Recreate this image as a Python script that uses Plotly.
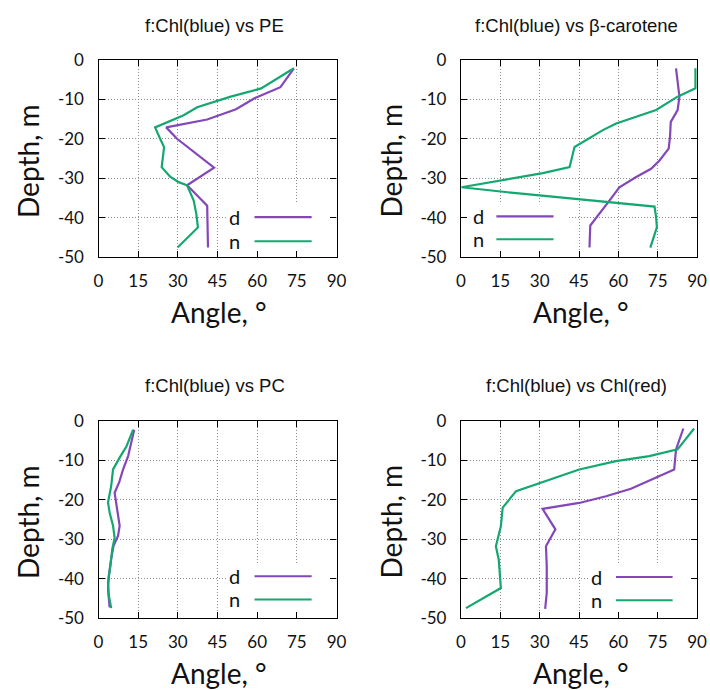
import plotly.graph_objects as go

# ---------------- data ----------------
titles = ["f:Chl(blue) vs PE", "f:Chl(blue) vs \u03b2-carotene",
          "f:Chl(blue) vs PC", "f:Chl(blue) vs Chl(red)"]
x_ticks = [0, 15, 30, 45, 60, 75, 90]
y_ticks = [0, -10, -20, -30, -40, -50]

# Panel 1: PE
pe_d_angle = [73.9, 68.8, 59.0, 52.0, 41.1, 25.6, 29.7, 43.7, 33.5, 41.1, 41.4]
pe_d_depth = [-2.1, -6.9, -9.7, -12.5, -15.1, -17.1, -20.0, -27.3, -31.8, -37.0, -47.6]
pe_n_angle = [73.9, 61.5, 50.0, 37.3, 32.2, 21.4, 23.3, 24.8, 23.9, 27.1, 30.3, 33.5, 36.0, 37.0, 37.6, 29.9]
pe_n_depth = [-2.1, -7.2, -9.3, -12.0, -14.0, -17.1, -20.0, -22.1, -27.2, -29.6, -31.0, -31.8, -35.7, -39.1, -42.5, -47.6]

# Panel 2: beta-carotene
bc_d_angle = [82.0, 82.6, 83.3, 82.6, 80.0, 79.7, 79.2, 75.7, 72.5, 66.8, 60.4, 56.6, 52.8, 49.3, 49.0]
bc_d_depth = [-2.1, -5.1, -9.3, -12.7, -15.7, -19.5, -22.5, -25.5, -27.6, -29.7, -32.3, -35.7, -39.1, -42.0, -47.6]
bc_n_angle = [89.4, 89.4, 82.6, 74.4, 59.2, 54.1, 43.3, 41.4, 31.2, 14.8, 0.2, 21.1, 55.4, 73.8, 74.4, 74.7, 72.2]
bc_n_depth = [-2.1, -7.2, -9.3, -12.7, -16.1, -17.8, -22.1, -27.2, -28.7, -30.6, -32.3, -33.8, -36.1, -37.2, -39.9, -42.5, -47.6]

# Panel 3: PC
pc_d_angle = [13.5, 12.5, 11.2, 9.3, 7.8, 6.1, 6.8, 8.0, 7.4, 5.7, 4.8, 3.9, 3.6, 4.2]
pc_d_depth = [-2.2, -5.5, -8.9, -12.3, -15.6, -18.2, -21.5, -26.6, -29.1, -31.7, -35.0, -39.3, -42.6, -47.3]
pc_n_angle = [13.1, 10.6, 8.0, 5.5, 4.8, 3.6, 4.2, 5.5, 6.1, 5.2, 4.5, 3.6, 3.9, 4.8]
pc_n_depth = [-2.2, -6.4, -9.3, -12.3, -16.5, -20.7, -23.2, -26.6, -29.6, -32.5, -36.7, -41.0, -44.3, -47.5]

# Panel 4: Chl(red)
cr_d_angle = [84.8, 83.2, 82.0, 81.3, 76.9, 71.8, 64.8, 55.3, 45.1, 31.1, 36.0, 32.4, 32.7, 32.7, 32.1]
cr_d_depth = [-1.9, -5.1, -7.2, -12.3, -13.6, -15.3, -17.2, -19.1, -20.8, -22.3, -27.5, -31.8, -36.9, -43.6, -47.7]
cr_n_angle = [88.9, 82.6, 71.8, 59.1, 45.1, 36.2, 24.8, 21.0, 15.9, 15.2, 13.3, 14.4, 15.2, 1.9]
cr_n_depth = [-1.9, -7.2, -8.9, -10.2, -12.3, -14.4, -16.9, -17.8, -22.0, -26.7, -31.8, -35.2, -42.4, -47.5]

series = [
    (pe_d_angle, pe_d_depth, pe_n_angle, pe_n_depth),
    (bc_d_angle, bc_d_depth, bc_n_angle, bc_n_depth),
    (pc_d_angle, pc_d_depth, pc_n_angle, pc_n_depth),
    (cr_d_angle, cr_d_depth, cr_n_angle, cr_n_depth),
]
legend_names = ["d", "n"]

# ---------------- style / layout ----------------
W, H = 710, 690
PURPLE = "#8447B8"
GREEN = "#14A870"
TICKFONT = dict(family="Lato", size=17, color="#111")
TITLEFONT = dict(family="Liberation Sans, Arial", size=18.5, color="#111")
AXTITLEFONT = dict(family="Lato", size=28, color="#111")

# plot areas in pixels: (left, right, top, bottom)
areas = [(98.5, 336.5, 60, 257), (461, 697, 60, 257),
         (98.5, 336.5, 421, 618), (461, 697, 421, 618)]

# legend boxes (x0, x1) in data coords, and sample-line x ranges / text x
leg_box = [(48.5, 90), (0, 40.4), (48.5, 90), (48.5, 90)]
leg_line = [(59, 80.6), (13.5, 35.3), (59, 80.6), (59.1, 80.7)]
leg_text_x = [51.3, 6.5, 51.3, 51.5]
leg_y = [(-39.9, -46.0), (-39.7, -45.5), (-39.4, -45.3), (-39.6, -45.5)]

fig = go.Figure()
layout = dict(width=W, height=H, margin=dict(l=0, r=0, t=0, b=0, pad=0, autoexpand=False),
              paper_bgcolor="white", plot_bgcolor="white", showlegend=False)
shapes = []
annotations = []

for i, (da, dd, na, nd) in enumerate(series):
    k = "" if i == 0 else str(i + 1)
    xa, ya = "x" + k, "y" + k
    l, r, t, b = areas[i]
    axis_common = dict(showline=True, linecolor="black", linewidth=1.3, mirror="ticks",
                       ticks="inside", ticklen=6, tickcolor="black", tickwidth=1.3,
                       showgrid=True, gridcolor="#8c8c8c", griddash="1px,2px", gridwidth=1,
                       zeroline=False, tickfont=TICKFONT, fixedrange=True, automargin=False)
    layout["xaxis" + k] = dict(axis_common, domain=[l / W, r / W], range=[0, 90],
                               tickvals=x_ticks, ticktext=[str(v) for v in x_ticks],
                               anchor=ya, ticklabelstandoff=8)
    layout["yaxis" + k] = dict(axis_common, domain=[1 - b / H, 1 - t / H], range=[-50, 0],
                               tickvals=y_ticks, ticktext=[str(v) for v in y_ticks],
                               anchor=xa, ticklabelstandoff=10)

    fig.add_trace(go.Scatter(x=da, y=dd, mode="lines", name=legend_names[0],
                             line=dict(color=PURPLE, width=2.2), xaxis=xa, yaxis=ya))
    fig.add_trace(go.Scatter(x=na, y=nd, mode="lines", name=legend_names[1],
                             line=dict(color=GREEN, width=2.2), xaxis=xa, yaxis=ya))

    # opaque key box hiding gridlines (between grid and traces)
    bx0, bx1 = leg_box[i]
    shapes.append(dict(type="rect", xref=xa, yref=ya, x0=bx0, x1=bx1, y0=-50, y1=-36.1,
                       fillcolor="white", line=dict(width=0), layer="between"))
    lx0, lx1 = leg_line[i]
    for j, (name, col) in enumerate(zip(legend_names, [PURPLE, GREEN])):
        yy = leg_y[i][j]
        shapes.append(dict(type="line", xref=xa, yref=ya, x0=lx0, x1=lx1, y0=yy, y1=yy,
                           line=dict(color=col, width=2.2), layer="above"))
        annotations.append(dict(xref=xa, yref=ya, x=leg_text_x[i], y=yy, text=name,
                                showarrow=False, font=dict(family="Lato", size=20, color="#111"),
                                xanchor="center", yanchor="middle"))

    cx = (l + r) / 2
    # subplot title
    annotations.append(dict(xref="paper", yref="paper", x=(cx - 3) / W, y=1 - (t - 35) / H,
                            text=titles[i], showarrow=False, font=TITLEFONT,
                            xanchor="center", yanchor="middle"))
    # x axis title
    annotations.append(dict(xref="paper", yref="paper", x=(cx + 2) / W, y=1 - (b + 55) / H,
                            text="Angle, \u00b0", showarrow=False, font=AXTITLEFONT,
                            xanchor="center", yanchor="middle"))
    # y axis title
    annotations.append(dict(xref="paper", yref="paper", x=(l - 71) / W, y=1 - ((t + b) / 2 + 2) / H,
                            text="Depth, m", showarrow=False, font=AXTITLEFONT, textangle=-90,
                            xanchor="center", yanchor="middle"))

layout["shapes"] = shapes
layout["annotations"] = annotations
fig.update_layout(**layout)
fig.write_html("out.html", config={"displayModeBar": False},
               post_script="document.body.style.margin='0';document.body.style.overflow='hidden';")
